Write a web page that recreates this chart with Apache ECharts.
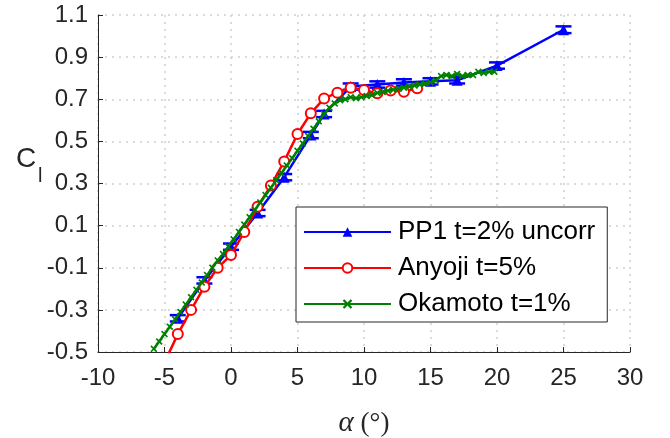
<!DOCTYPE html>
<html>
<head>
<meta charset="utf-8">
<script src="https://cdn.jsdelivr.net/npm/echarts@6/dist/echarts.min.js"></script>
<style>
  html, body { margin: 0; padding: 0; background: #fff; }
  #chart { width: 670px; height: 438px; }
</style>
</head>
<body>
<div id="chart"></div>
<script>
// Axis ticks
const xTicks = [-10, -5, 0, 5, 10, 15, 20, 25, 30];
const yTicks = [-0.5, -0.3, -0.1, 0.1, 0.3, 0.5, 0.7, 0.9, 1.1];

// PP1 wind-tunnel run (with error bars)
const pp1Alpha = [-4, -2, 0, 2, 4, 6, 7, 9, 11, 13, 15, 17, 20, 25];
const pp1Cl    = [-0.34, -0.16, 0.0, 0.16, 0.33, 0.53, 0.63, 0.76, 0.77, 0.78, 0.785, 0.79, 0.86, 1.03];
const pp1Err   = [0.015, 0.015, 0.015, 0.015, 0.015, 0.015, 0.015, 0.015, 0.015, 0.015, 0.015, 0.015, 0.015, 0.016];

// Anyoji, t = 5%
const anyojiAlpha = [-5, -4, -3, -2, -1, 0, 1, 2, 3, 4, 5, 6, 7, 8, 9, 10, 11, 12, 13, 14];
const anyojiCl    = [-0.55, -0.415, -0.30, -0.19, -0.10, -0.04, 0.07, 0.19, 0.29, 0.405, 0.535, 0.633, 0.704, 0.731, 0.755, 0.744, 0.728, 0.742, 0.736, 0.752];

// Okamoto, t = 1%
const okamotoAlpha = [-5.8, -5.4, -5.0, -4.6, -4.2, -3.8, -3.4, -3.0, -2.6, -2.2, -1.8, -1.4, -1.0, -0.6, -0.2,
  0.2, 0.6, 1.0, 1.4, 1.8, 2.2, 2.6, 3.0, 3.4, 3.8, 4.2, 4.6, 5.0, 5.4, 5.8, 6.2, 6.6, 7.0, 7.4, 7.8,
  8.2, 8.6, 9.0, 9.4, 9.8, 10.2, 10.6, 11.0, 11.4, 11.8, 12.2, 12.6, 13.0, 13.4, 13.8, 14.2, 14.6,
  15.0, 15.4, 15.8, 16.2, 16.6, 17.0, 17.4, 17.8, 18.2, 18.6, 19.0, 19.4, 19.8];
const okamotoCl = [-0.485, -0.45, -0.415, -0.38, -0.345, -0.31, -0.275, -0.24, -0.205, -0.17, -0.135, -0.10, -0.065, -0.035, 0.0,
  0.035, 0.07, 0.105, 0.14, 0.175, 0.21, 0.245, 0.28, 0.315, 0.35, 0.385, 0.42, 0.455, 0.49, 0.525, 0.56, 0.595, 0.63, 0.66, 0.68,
  0.695, 0.70, 0.71, 0.705, 0.71, 0.715, 0.72, 0.73, 0.735, 0.74, 0.745, 0.75, 0.755, 0.76, 0.765, 0.77, 0.775,
  0.78, 0.79, 0.81, 0.815, 0.81, 0.82, 0.81, 0.815, 0.815, 0.83, 0.825, 0.83, 0.83];

const seriesNames = ['PP1 t=2% uncorr', 'Anyoji t=5%', 'Okamoto t=1%'];

const BLUE = '#0000ff', RED = '#ff0000', GREEN = '#008000';
const AXIS = '#262626';
const FONT = 'Liberation Sans, Helvetica, Arial, sans-serif';
const SERIF = 'Liberation Serif, DejaVu Serif, serif';
const CROSS = 'path://M0,1 L1,0 L3,2 L5,0 L6,1 L4,3 L6,5 L5,6 L3,4 L1,6 L0,5 L2,3 Z';
const LW = 2.5;

const zip = (a, b) => a.map((v, i) => [v, b[i]]);
const pp1Bars = pp1Alpha.map((v, i) => [v, pp1Cl[i], pp1Err[i]]);

// I-shaped error bar drawn through the axis scales
function errorBar(params, api) {
  const x = api.value(0), y = api.value(1), e = api.value(2);
  const lo = api.coord([x, y - e]);
  const hi = api.coord([x, y + e]);
  const cap = 8;
  const style = { stroke: BLUE, lineWidth: LW, fill: null };
  return {
    type: 'group',
    children: [
      { type: 'line', shape: { x1: lo[0], y1: lo[1], x2: hi[0], y2: hi[1] }, style },
      { type: 'line', shape: { x1: lo[0] - cap, y1: lo[1], x2: lo[0] + cap, y2: lo[1] }, style },
      { type: 'line', shape: { x1: hi[0] - cap, y1: hi[1], x2: hi[0] + cap, y2: hi[1] }, style }
    ]
  };
}

const chart = echarts.init(document.getElementById('chart'), null, { renderer: 'canvas' });

const axisCommon = {
  axisLine: { show: true, onZero: false, lineStyle: { color: AXIS, width: 1 } },
  axisTick: { show: true, inside: true, length: 5, lineStyle: { color: AXIS, width: 1 } },
  axisLabel: { color: AXIS, fontSize: 24, fontFamily: FONT },
  splitLine: { show: true, lineStyle: { color: '#cfcfcf', width: 1.5, type: [2, 5] } }
};

chart.setOption({
  animation: false,
  backgroundColor: '#ffffff',
  grid: { left: 98, right: 40, top: 15, bottom: 86, containLabel: false, outerBoundsMode: 'none' },
  xAxis: {
    type: 'value', min: xTicks[0], max: xTicks[xTicks.length - 1], interval: 5,
    ...axisCommon,
    axisLabel: { ...axisCommon.axisLabel, margin: 14 },
    name: '{a|α} (°)',
    nameLocation: 'middle',
    nameGap: 57,
    nameTextStyle: {
      color: AXIS, fontSize: 27, fontFamily: SERIF,
      rich: { a: { fontStyle: 'italic', fontSize: 29, fontFamily: SERIF, color: AXIS } }
    }
  },
  yAxis: {
    type: 'value', min: yTicks[0], max: yTicks[yTicks.length - 1],
    ...axisCommon,
    axisTick: { ...axisCommon.axisTick, customValues: yTicks },
    axisLabel: { ...axisCommon.axisLabel, margin: 10, customValues: yTicks, formatter: v => v.toFixed(1) }
  },
  legend: {
    orient: 'vertical',
    left: 296, top: 207,
    padding: [12, 12, 5, 7],
    itemWidth: 87, itemHeight: 12, itemGap: 10,
    backgroundColor: '#ffffff',
    borderColor: AXIS, borderWidth: 1,
    selectedMode: false,
    textStyle: { color: '#000', fontSize: 26, lineHeight: 26, fontFamily: FONT, padding: [0, 0, 0, 2] },
    data: seriesNames
  },
  graphic: [
    // y-axis title: C with subscript l
    { type: 'text', left: 16, top: 145, style: { text: 'C', fontSize: 28, fontFamily: FONT, fill: AXIS } },
    { type: 'text', left: 38, top: 166, style: { text: 'l', fontSize: 20, fontFamily: FONT, fill: AXIS } },
    // error-bar glyph on the PP1 legend key
    {
      type: 'group', left: 338.5, top: 218, z: 200,
      children: [
        { type: 'line', shape: { x1: 8, y1: 0, x2: 8, y2: 27 }, style: { stroke: BLUE, lineWidth: LW } },
        { type: 'line', shape: { x1: 0, y1: 0, x2: 16, y2: 0 }, style: { stroke: BLUE, lineWidth: LW } },
        { type: 'line', shape: { x1: 0, y1: 27, x2: 16, y2: 27 }, style: { stroke: BLUE, lineWidth: LW } }
      ]
    }
  ],
  series: [
    {
      name: seriesNames[0], type: 'line', data: zip(pp1Alpha, pp1Cl),
      symbol: 'triangle', symbolSize: 11,
      itemStyle: { color: BLUE }, lineStyle: { color: BLUE, width: LW },
      z: 2
    },
    {
      name: seriesNames[0], type: 'custom', data: pp1Bars,
      encode: { x: 0, y: 1 },
      renderItem: errorBar,
      z: 2
    },
    {
      name: seriesNames[1], type: 'line', data: zip(anyojiAlpha, anyojiCl),
      symbol: 'emptyCircle', symbolSize: 10,
      itemStyle: { color: RED, borderWidth: 2.2 }, lineStyle: { color: RED, width: LW },
      z: 3
    },
    {
      name: seriesNames[2], type: 'line', data: zip(okamotoAlpha, okamotoCl),
      symbol: CROSS, symbolSize: 7,
      itemStyle: { color: GREEN }, lineStyle: { color: GREEN, width: LW },
      z: 4
    }
  ]
});
</script>
</body>
</html>
